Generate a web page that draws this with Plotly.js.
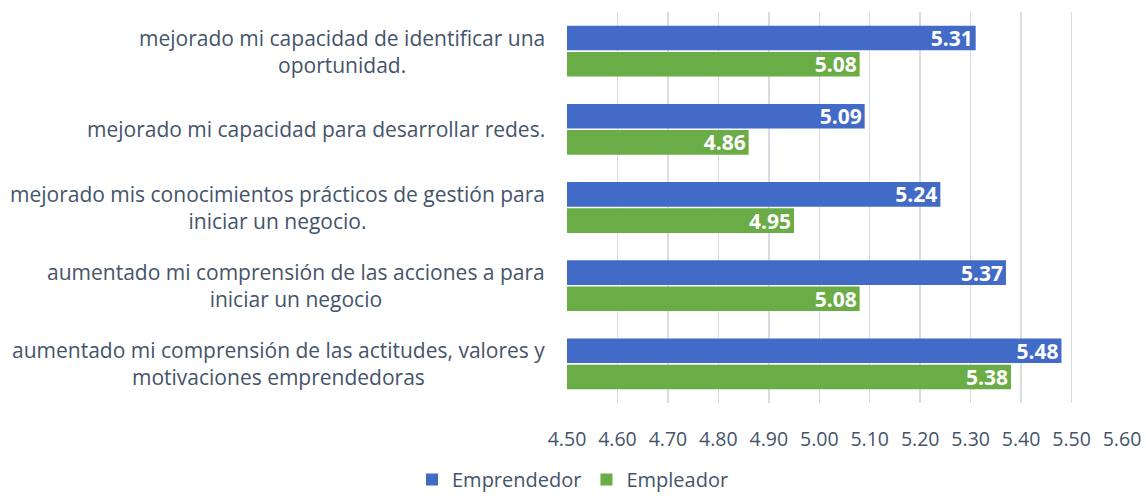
<!DOCTYPE html>
<html>
<head>
<meta charset="utf-8">
<script src="https://cdn.plot.ly/plotly-3.0.1.min.js"></script>
<style>
  html, body { margin: 0; padding: 0; background: #fff; }
  #myPlot { width: 1146px; height: 499px; }
</style>
</head>
<body>
<div id="myPlot"></div>
<script>
var categories = [
    "mejorado mi capacidad de identificar una<br>oportunidad.",
    "mejorado mi capacidad para desarrollar redes.",
    "mejorado mis conocimientos prácticos de gestión para<br>iniciar un negocio.",
    "aumentado mi comprensión de las acciones a para<br>iniciar un negocio",
    "aumentado mi comprensión de las actitudes, valores y<br>motivaciones emprendedoras"
];
var emprendedor = [5.31, 5.09, 5.24, 5.37, 5.48];
var empleador = [5.08, 4.86, 4.95, 5.08, 5.38];
var tickVals = [4.5, 4.6, 4.7, 4.8, 4.9, 5.0, 5.1, 5.2, 5.3, 5.4, 5.5, 5.6];
var axisStart = 4.5;

var fontName = "Open Sans, Noto Sans, sans-serif";
var textGrey = "#44546A";

// bars start at 4.50, so the drawn length is value - 4.50
function barTrace(name, vals, color) {
    return {
        type: "bar",
        orientation: "h",
        name: name,
        y: categories,
        x: vals.map(function (v) { return +(v - axisStart).toFixed(2); }),
        base: axisStart,
        marker: {color: color},
        text: vals.map(function (v) { return v.toFixed(2); }),
        textposition: "inside",
        insidetextanchor: "end",
        constraintext: "none",
        textfont: {family: fontName, size: 21, color: "#ffffff", weight: "bold"},
        cliponaxis: false,
        hoverinfo: "text+name"
    };
}

var data = [
    barTrace("Emprendedor", emprendedor, "#416BC6"),
    barTrace("Empleador", empleador, "#6AAC45")
];

var labelNotes = categories.map(function (c) {
    return {
        xref: "paper", yref: "y",
        x: 0, y: c,
        xanchor: "right", xshift: -20,
        align: "center",
        showarrow: false,
        text: c,
        font: {family: fontName, size: 21, color: textGrey}
    };
});

var layout = {
    width: 1146,
    height: 499,
    margin: {l: 567, r: 24, t: 12, b: 96},
    paper_bgcolor: "#ffffff",
    plot_bgcolor: "#ffffff",
    barmode: "group",
    bargap: 0.33,
    bargroupgap: 0.06,
    font: {family: fontName, color: textGrey},
    xaxis: {
        range: [4.5, 5.6],
        tickvals: tickVals,
        ticktext: tickVals.map(function (v) { return v.toFixed(2); }),
        showgrid: true,
        gridcolor: "#D9DDE3",
        gridwidth: 1.5,
        zeroline: false,
        showline: false,
        ticks: "",
        ticklabelstandoff: 22,
        tickfont: {family: fontName, size: 19.5, color: textGrey},
        fixedrange: true
    },
    yaxis: {
        type: "category",
        autorange: "reversed",
        showticklabels: false,
        showgrid: false,
        zeroline: false,
        showline: false,
        fixedrange: true
    },
    annotations: labelNotes,
    showlegend: true,
    legend: {
        orientation: "h",
        x: 0.5, xref: "container", xanchor: "center",
        y: -0.035, yref: "container", yanchor: "bottom",
        font: {family: fontName, size: 20, color: textGrey},
        itemwidth: 30,
        traceorder: "normal"
    }
};

Plotly.newPlot("myPlot", data, layout, {displayModeBar: false, staticPlot: true});
</script>
</body>
</html>
